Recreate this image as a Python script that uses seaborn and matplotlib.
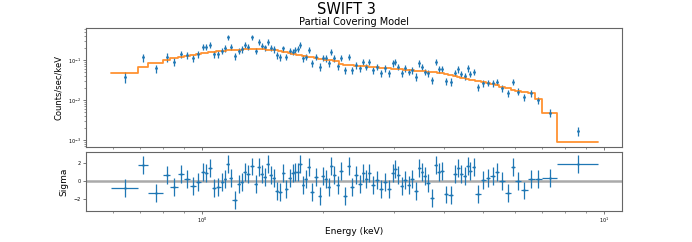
import numpy as np
import matplotlib
matplotlib.use("Agg")
import matplotlib.pyplot as plt
import seaborn as sns

sns.set_style("ticks")
plt.rcParams["font.family"] = ["DejaVu Sans"]
plt.rcParams["text.color"] = "black"
plt.rcParams["axes.labelcolor"] = "black"

# bin edges (keV)
energy_edges = [0.5938, 0.6931, 0.734, 0.800, 0.8325, 0.870, 0.9036, 0.9336, 0.9646, 0.9926,
                1.0156, 1.0362, 1.0571, 1.0847, 1.1130, 1.1336, 1.1500, 1.1666, 1.1902, 1.2213,
                1.2446, 1.2647, 1.2896, 1.3157, 1.3446, 1.3734, 1.3972, 1.4198, 1.4444, 1.4694,
                1.4932, 1.5191, 1.5490, 1.5768, 1.6060, 1.6367, 1.6670, 1.6929, 1.7154, 1.7402,
                1.7683, 1.7979, 1.8250, 1.8587, 1.8985, 1.9403, 1.9818, 2.0162, 2.0488, 2.0820,
                2.1157, 2.1544, 2.1943, 2.2412, 2.2932, 2.3343, 2.3843, 2.4437, 2.4961, 2.5409,
                2.5849, 2.6327, 2.6860, 2.7482, 2.8150, 2.8836, 2.9504, 3.0032, 3.0518, 3.1082,
                3.1696, 3.2337, 3.2992, 3.3679, 3.4400, 3.4996, 3.5542, 3.6158, 3.6911, 3.7767,
                3.8510, 3.9088, 3.9880, 4.1016, 4.2159, 4.3036, 4.3783, 4.4592, 4.5416, 4.6151,
                4.6871, 4.7874, 4.9266, 5.0698, 5.2113, 5.3474, 5.4871, 5.6627, 5.8540, 6.0170,
                6.2061, 6.4600, 6.7283, 6.9986, 7.6545, 9.6784]

# observed rate (counts/sec/keV)
counts = [0.0383, 0.117, 0.0617, 0.121, 0.091, 0.141, 0.131, 0.110, 0.141, 0.215,
          0.215, 0.237, 0.139, 0.141, 0.171, 0.196, 0.369, 0.215, 0.126, 0.171,
          0.185, 0.237, 0.215, 0.369, 0.171, 0.287, 0.228, 0.207, 0.287, 0.205,
          0.185, 0.130, 0.118, 0.196, 0.121, 0.168, 0.162, 0.178, 0.188, 0.237,
          0.110, 0.121, 0.178, 0.0826, 0.121, 0.068, 0.114, 0.110, 0.0826, 0.162,
          0.110, 0.0708, 0.114, 0.0562, 0.121, 0.0562, 0.075, 0.062, 0.0909, 0.068,
          0.0909, 0.0562, 0.068, 0.0464, 0.062, 0.0464, 0.0826, 0.0909, 0.068, 0.0464,
          0.062, 0.0511, 0.0562, 0.0383, 0.0826, 0.068, 0.0511, 0.0464, 0.0316, 0.0909,
          0.0596, 0.061, 0.0299, 0.0287, 0.0482, 0.0585, 0.0447, 0.0398, 0.062, 0.0447,
          0.0511, 0.0207, 0.0261, 0.0271, 0.0261, 0.0287, 0.0196, 0.0147, 0.0287, 0.0162,
          0.0117, 0.0147, 0.0100, 0.00482, 0.00168]

counts_err = [0.011, 0.027, 0.015, 0.030, 0.022, 0.028, 0.026, 0.022, 0.027, 0.040,
              0.040, 0.043, 0.026, 0.026, 0.031, 0.035, 0.060, 0.037, 0.024, 0.031,
              0.033, 0.041, 0.038, 0.060, 0.031, 0.048, 0.040, 0.036, 0.047, 0.036,
              0.033, 0.025, 0.023, 0.034, 0.023, 0.030, 0.029, 0.031, 0.032, 0.040,
              0.021, 0.022, 0.031, 0.016, 0.022, 0.014, 0.021, 0.020, 0.016, 0.028,
              0.020, 0.014, 0.021, 0.011, 0.022, 0.011, 0.014, 0.012, 0.017, 0.013,
              0.017, 0.011, 0.013, 0.009, 0.012, 0.009, 0.015, 0.017, 0.013, 0.009,
              0.012, 0.010, 0.011, 0.008, 0.015, 0.013, 0.010, 0.009, 0.007, 0.017,
              0.011, 0.011, 0.006, 0.006, 0.009, 0.011, 0.008, 0.0075, 0.011, 0.008,
              0.009, 0.0042, 0.005, 0.005, 0.005, 0.0055, 0.004, 0.003, 0.0055, 0.0032,
              0.0024, 0.003, 0.002, 0.0011, 0.0004]

# partial covering model, one value per bin
model = [0.0473, 0.068, 0.084, 0.098, 0.110, 0.120, 0.128, 0.136, 0.143, 0.149,
         0.153, 0.157, 0.162, 0.166, 0.170, 0.172, 0.174, 0.176, 0.179, 0.181,
         0.182, 0.183, 0.184, 0.185, 0.185, 0.185, 0.184, 0.183, 0.182, 0.180,
         0.178, 0.175, 0.170, 0.162, 0.155, 0.148, 0.143, 0.138, 0.135, 0.130,
         0.126, 0.124, 0.121, 0.118, 0.114, 0.107, 0.105, 0.102, 0.100, 0.099,
         0.097, 0.094, 0.081, 0.076, 0.0746, 0.074, 0.0724, 0.0708, 0.070, 0.0692,
         0.0682, 0.0668, 0.065, 0.063, 0.0624, 0.0617, 0.061, 0.0603, 0.0596, 0.0589,
         0.0575, 0.0562, 0.055, 0.0543, 0.0537, 0.0525, 0.0519, 0.0507, 0.0495, 0.049,
         0.0479, 0.0462, 0.0442, 0.0417, 0.0389, 0.0376, 0.0363, 0.0347, 0.0335, 0.0324,
         0.0316, 0.0302, 0.0285, 0.0269, 0.0251, 0.0234, 0.0214, 0.0195, 0.018, 0.017,
         0.0162, 0.0148, 0.0106, 0.0046, 0.00089]

# residuals in sigma
sigma = [-0.79, 1.8, -1.42, 0.6, -0.67, 0.71, 0.19, -0.56, -0.1, 0.97,
         0.9, 1.39, -0.79, -0.71, -0.1, 0.15, 1.87, 0.26, -2.17, -0.34,
         -0.15, 0.97, 0.71, 1.6, -0.41, 1.57, 0.71, 0.45, 1.87, 0.6,
         0.34, -1.12, -1.24, 0.86, -0.97, 0.34, 0.86, 0.97, 0.94, 1.87,
         -0.49, 0.19, 1.57, -1.24, 0.45, -1.72, 0.56, 0.19, -0.71, 1.69,
         0.67, -0.52, 1.12, -1.69, 1.61, -0.71, 0.64, -0.34, 0.9, 0.15,
         0.9, -0.45, 0.07, -0.94, -0.19, -0.97, 0.9, 1.35, 0.6, -0.64,
         0.07, -0.45, 0.19, -1.2, 1.39, 0.97, 0.52, -0.26, -1.95, 1.8,
         0.94, 1.05, -1.54, -1.65, 0.75, 1.46, 0.79, 0.49, 1.69, 1.05,
         1.5, -1.5, 0.07, 0.26, 0.56, 0.94, -0.04, -1.42, 1.5, 0.0,
         -1.09, 0.15, 0.15, 0.3, 1.87]

edges = np.array(energy_edges)
lo, hi = edges[:-1], edges[1:]
energy = np.sqrt(lo * hi)
xerr = [energy - lo, hi - energy]

fig = plt.figure(figsize=(6.92, 2.42), dpi=100)
ax1 = fig.add_axes([0.1243, 0.3926, 0.7746, 0.4917])
ax2 = fig.add_axes([0.1243, 0.1281, 0.7746, 0.2438], sharex=ax1)

# spectrum + model
ax1.errorbar(energy, counts, yerr=counts_err, fmt=".", color="C0", ms=2, lw=0.9)
sns.lineplot(x=edges, y=np.append(model, model[-1]), ax=ax1, color="C1", lw=1.3,
             drawstyle="steps-post", estimator=None, sort=False, alpha=0.85)
ax1.set_xscale("log")
ax1.set_yscale("log")
ax1.set_xlim(0.5146, 11.08)
ax1.set_ylim(0.000668, 0.631)
ax1.set_ylabel("Counts/sec/keV", fontsize=6)
ax1.set_title("Partial Covering Model", fontsize=7, pad=2)
ax1.tick_params(labelbottom=False)

# residuals
ax2.axhline(0, color="#aaaaaa", lw=1.8, zorder=0)
ax2.errorbar(energy, sigma, xerr=xerr, yerr=1, fmt=".", color="C0", ms=1.5, lw=0.9)
ax2.set_ylim(-3.4, 3.22)
ax2.set_yticks([-2, 0, 2])
ax2.set_ylabel("Sigma", fontsize=6.5)
ax2.set_xlabel("Energy (keV)", fontsize=6.5, labelpad=1)

for ax in (ax1, ax2):
    for sp in ax.spines.values():
        sp.set_color("#666666")
        sp.set_linewidth(0.8)
    ax.tick_params(which="major", labelsize=3.5, length=2, width=0.5, pad=1.5,
                   colors="#444444", labelcolor="black")
    ax.tick_params(which="minor", length=1.2, width=0.4, colors="#444444")

fig.suptitle("SWIFT 3", fontsize=10.5, y=0.99)
fig.savefig("out.png", dpi=100)
